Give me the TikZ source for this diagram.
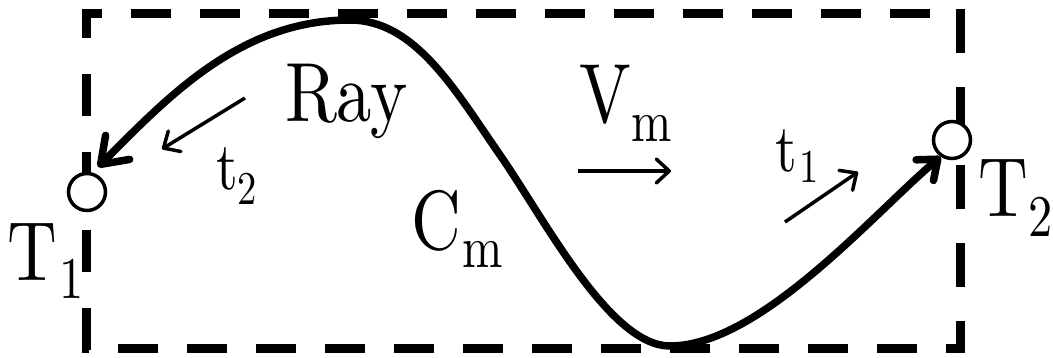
\documentclass[tikz,border=0pt]{standalone}
\usepackage{graphicx}
\usepackage{fontspec}
\usetikzlibrary{arrows.meta}
\newfontfamily\lmten{lmroman10-regular.otf}
\newcommand\LabBig{\lmten\fontsize{84}{90}\selectfont}
\newcommand\LabSub{\lmten\fontsize{59}{60}\selectfont}
\newcommand\LabT{\lmten\fontsize{68}{70}\selectfont}
\newcommand\LabTSub{\lmten\fontsize{47}{48}\selectfont}
\begin{document}
\begin{tikzpicture}[x=1pt,y=-1pt,
  frame/.style={line width=9pt},
  ray/.style={line width=7.5pt},
  dir/.style={line width=3.5pt,-{Straight Barb[length=13pt,width=24pt,round]}},
  port/.style={circle,draw,fill=white,line width=3.5pt,minimum size=37pt,inner sep=0pt},
  lab/.style={anchor=base west,inner sep=0pt,outer sep=0pt}]
\useasboundingbox (0,0) rectangle (1053,358);
% dashed frame
\draw[frame,dash pattern=on 40pt off 29pt,dash phase=19.5pt] (81.5,14) -- (964.5,14);
\draw[frame,dash pattern=on 40pt off 29pt,dash phase=32.5pt] (81.5,348) -- (964.5,348);
\draw[frame,dash pattern=on 42pt off 36pt,dash phase=13.5pt] (86,9.5) -- (86,352.5);
\draw[frame,dash pattern=on 44pt off 34pt,dash phase=0pt] (960,9.5) -- (960,352.5);
% ports
\node[port] (p1) at (87,192) {};
\node[port] (p2) at (952,140) {};
% ray (drawn from its crest towards both ports)
\coordinate (crest) at (350,20);
\coordinate (tipL) at (98,167);
\draw[ray,-{Straight Barb[length=24pt,width=34pt,round]}] (crest) .. controls (240,20) and (168,97) .. (tipL);
\draw[ray,-{Straight Barb[length=17pt,width=27pt,round]}] (crest) .. controls (415,20) and (455,90) .. (500,155)
  .. controls (545,220) and (610,346) .. (670,346)
  .. controls (760,346) and (875,212) .. (p2.236);
% direction arrows
\coordinate (a2s) at (245,98); \coordinate (a2e) at (162,149);
\coordinate (a1s) at (785,222); \coordinate (a1e) at (858,172);
\coordinate (avs) at (578,171); \coordinate (ave) at (671,171);
\draw[dir] (a2s) -- (a2e);
\draw[dir] (a1s) -- (a1e);
\draw[dir] (avs) -- (ave);
% labels
\node[lab] (ray) at (285,122) {\LabBig\scalebox{0.84}[1]{Ray}};
\node[lab] (vm) at (579,123) {\LabBig\scalebox{0.82}[1]{V\kern1pt\raisebox{-19pt}{\LabSub m}}};
\node[lab] (cm) at (411,250) {\LabBig\scalebox{0.82}[1]{C\kern2pt\raisebox{-18pt}{\LabSub m}}};
\node[lab] (t1) at (8,280) {\LabBig\scalebox{0.82}[1]{T\kern2pt\raisebox{-18pt}{\LabSub 1}}};
\node[lab] (t2) at (978,217) {\LabBig\scalebox{0.82}[1]{T\kern1pt\raisebox{-20pt}{\LabSub 2}}};
\node[lab] (lt2) at (216,190) {\LabT\scalebox{0.82}[1]{t\kern0pt\raisebox{-15pt}{\LabTSub 2}}};
\node[lab] (lt1) at (775,172) {\LabT\scalebox{0.82}[1]{t\kern3pt\raisebox{-11pt}{\LabTSub 1}}};
\end{tikzpicture}
\end{document}
